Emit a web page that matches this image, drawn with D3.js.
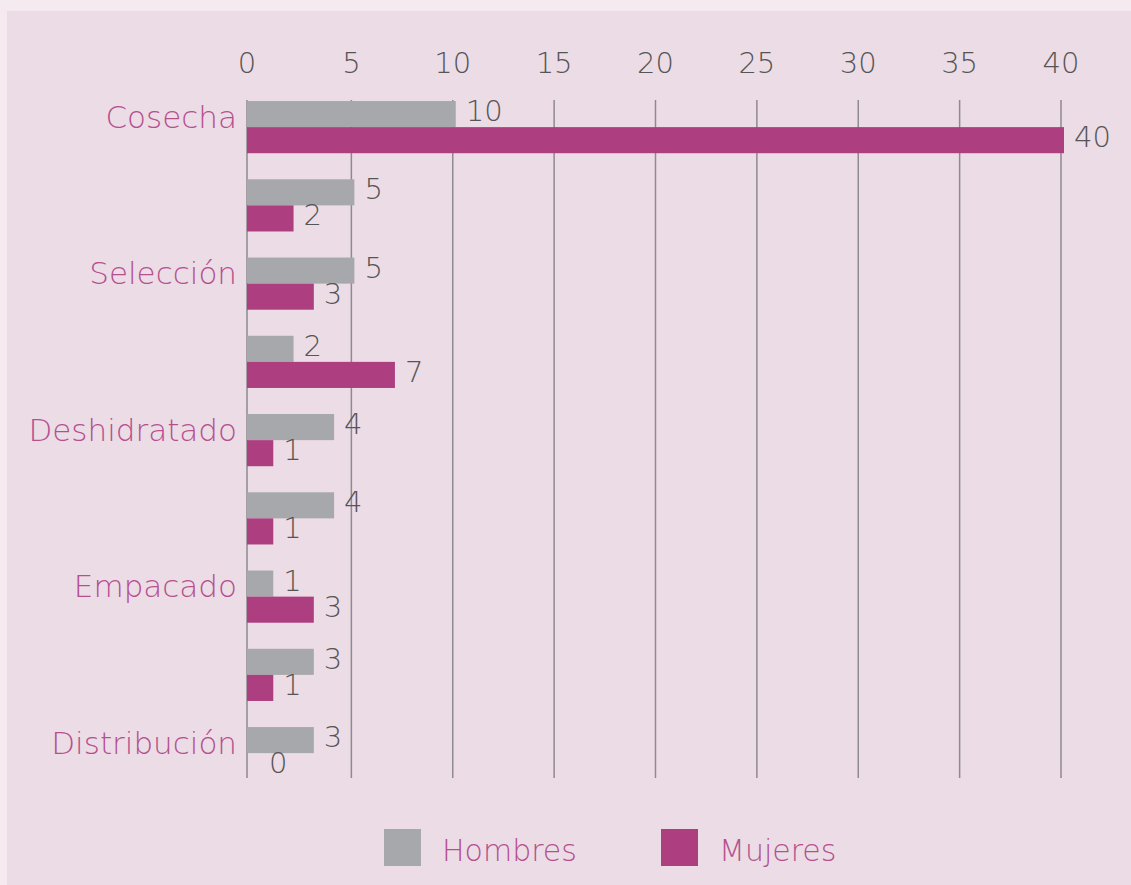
<!DOCTYPE html>
<html lang="es">
<head>
	<meta charset="UTF-8">
	<title>Hombres y Mujeres por etapa</title>
	<script src="https://cdnjs.cloudflare.com/ajax/libs/d3/7.8.5/d3.min.js"></script>
	<style>
		body { margin: 0; background: #f5eaef; }
		svg { display: block; }
		text { font-family: "DejaVu Sans", sans-serif; font-weight: 200; }
	</style>
</head>
<body>
	<svg id="viz"></svg>
	<script>
		// etiquetas de categoria (solo se muestran una si y otra no, como en el original)
		const categories = ['Cosecha', '', 'Selección', '', 'Deshidratado', '', 'Empacado', '', 'Distribución'];
		const hombres = [10, 5, 5, 2, 4, 4, 1, 3, 3];
		const mujeres = [40, 2, 3, 7, 1, 1, 3, 1, 0];
		const seriesNames = ['Hombres', 'Mujeres'];
		const xTicks = [0, 5, 10, 15, 20, 25, 30, 35, 40];

		const width = 1131;
		const height = 885;
		const colors = { Hombres: '#a7a8ab', Mujeres: '#ad3e80' };

		const svg = d3.select('#viz')
			.attr('width', width)
			.attr('height', height);

		svg.append('rect')
			.attr('x', 7).attr('y', 11)
			.attr('width', width - 7).attr('height', height - 11)
			.attr('fill', '#ecdce6');

		const x = d3.scaleLinear()
			.domain([0, 40])
			.range([250, 1061]);
		const x0 = x(0) - 3; // where the bars and the base line start

		const y = d3.scaleBand()
			.domain(d3.range(categories.length))
			.range([88, 792.25])
			.paddingInner(0.333)
			.paddingOuter(0.1665);

		const ySub = d3.scaleBand()
			.domain(seriesNames)
			.range([0, y.bandwidth()]);

		// grid lines
		svg.append('g')
			.selectAll('line')
			.data(xTicks)
			.join('line')
			.attr('x1', d => d === 0 ? x0 : x(d))
			.attr('x2', d => d === 0 ? x0 : x(d))
			.attr('y1', 100).attr('y2', 778)
			.attr('stroke', '#8e8a8e')
			.attr('stroke-width', 1.5);

		// top axis labels
		const topAxis = d3.axisTop(x).tickValues(xTicks).tickSize(0).tickPadding(0);
		const gTop = svg.append('g')
			.attr('transform', 'translate(0,73)')
			.call(topAxis);
		gTop.select('.domain').remove();
		gTop.selectAll('.tick')
			.attr('transform', d => `translate(${d === 0 ? x0 : x(d)},0)`);
		gTop.selectAll('text')
			.attr('font-size', 29)
			.attr('fill', '#555')
			.style('font-family', '"DejaVu Sans", sans-serif');

		const rows = categories.map((c, i) => ({ i, Hombres: hombres[i], Mujeres: mujeres[i] }));

		const groups = svg.append('g')
			.selectAll('g')
			.data(rows)
			.join('g')
			.attr('transform', d => `translate(0,${y(d.i)})`);

		groups.selectAll('rect')
			.data(d => seriesNames.map(s => ({ s, v: d[s] })))
			.join('rect')
			.attr('x', x0)
			.attr('y', d => ySub(d.s))
			.attr('width', d => d.v === 0 ? 0 : x(d.v) + 3 - x0)
			.attr('height', ySub.bandwidth())
			.attr('fill', d => colors[d.s]);

		groups.selectAll('text.val')
			.data(d => seriesNames.map(s => ({ s, v: d[s] })))
			.join('text')
			.attr('class', 'val')
			.attr('x', d => d.v === 0 ? x0 + 22 : x(d.v) + 13)
			.attr('y', d => ySub(d.s) + ySub.bandwidth() / 2 - 1)
			.attr('dominant-baseline', 'middle')
			.attr('font-size', 29)
			.attr('fill', '#555')
			.text(d => d.v);

		// category labels
		svg.append('g')
			.selectAll('text')
			.data(categories)
			.join('text')
			.attr('x', 237)
			.attr('y', (d, i) => y(i) + y.bandwidth() / 2 - 8)
			.attr('text-anchor', 'end')
			.attr('dominant-baseline', 'middle')
			.attr('font-size', 31)
			.attr('fill', '#b5508f')
			.text(d => d);

		// legend
		const legendX = [384, 661];
		const legend = svg.append('g')
			.selectAll('g')
			.data(seriesNames)
			.join('g')
			.attr('transform', (d, i) => `translate(${legendX[i]},829)`);
		legend.append('rect')
			.attr('width', 37).attr('height', 37)
			.attr('fill', d => colors[d]);
		legend.append('text')
			.attr('x', 58)
			.attr('y', 23)
			.attr('dominant-baseline', 'middle')
			.attr('font-size', 30)
			.attr('fill', '#b5508f')
			.text(d => d);
	</script>
</body>
</html>
